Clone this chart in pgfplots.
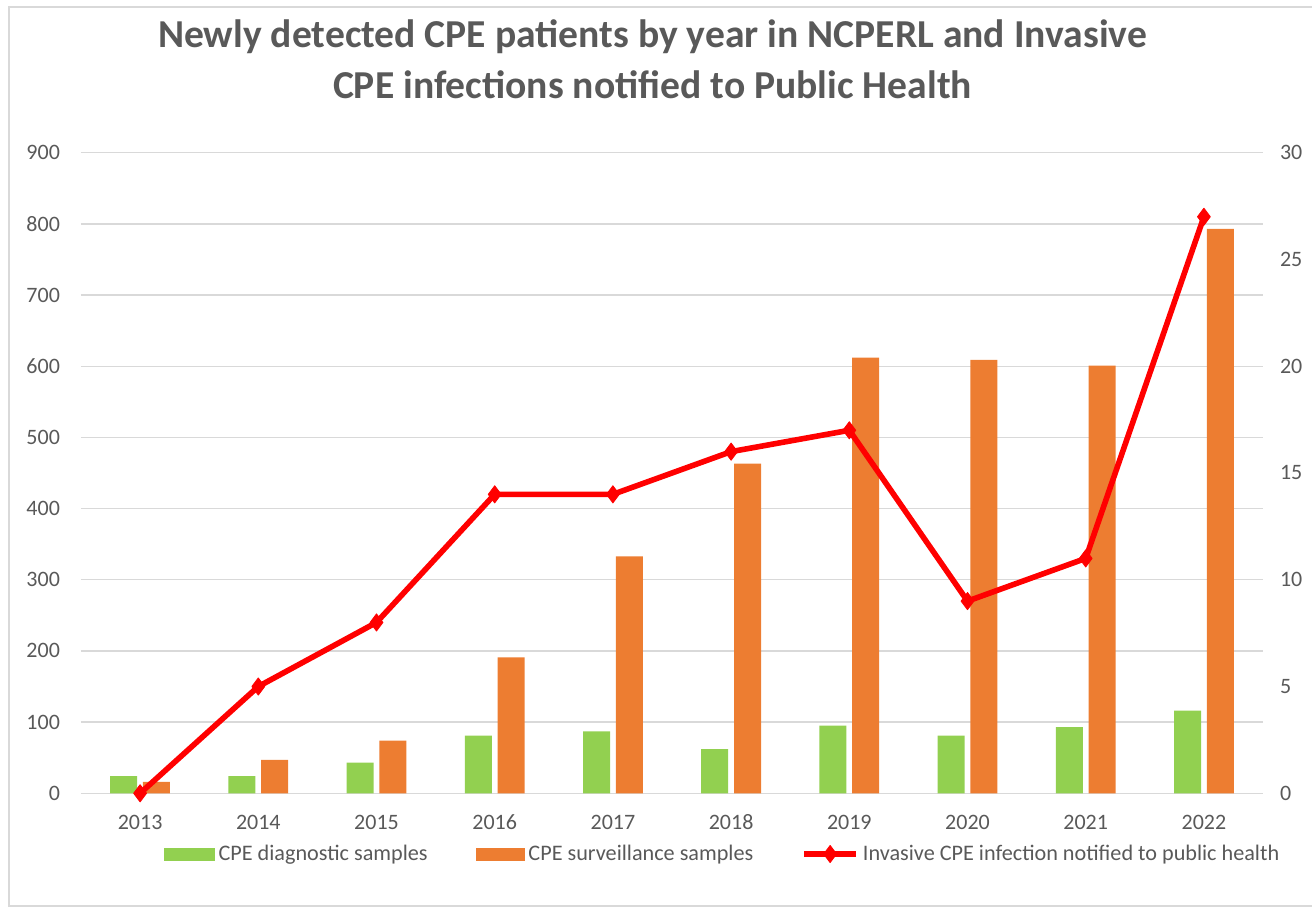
\documentclass[border=0pt]{standalone}
\usepackage{pgfplots}
\pgfplotsset{compat=1.18}
\usepackage{pgfplotstable}
\usepackage{fontspec}
\setmainfont{Carlito}
\definecolor{cgreen}{HTML}{92D050}
\definecolor{corange}{HTML}{ED7D31}
\definecolor{cgrid}{HTML}{D9D9D9}
\definecolor{ctext}{HTML}{595959}
\definecolor{cframe}{HTML}{D9D9D9}

\pgfplotstableread{
x diag surv inv
0 24 16 0
1 24 47 5
2 43 74 8
3 81 191 14
4 87 333 14
5 62 463 16
6 95 612 17
7 81 609 9
8 93 601 11
9 116 793 27
}\datatable

\begin{document}
\begin{tikzpicture}
\pgfplotsset{
  common/.style={
    at={(0pt,0pt)}, anchor=south west,
    scale only axis, width=591pt, height=320.3pt,
    xmin=-0.5, xmax=9.5,
    major tick length=0pt,
    tick label style={text=ctext, font=\fontsize{11}{13}\selectfont},
    /pgf/number format/assume math mode=true,
  }
}
\begin{axis}[common,
  ymin=0, ymax=900,
  xtick={0,...,9},
  xticklabels={2013,2014,2015,2016,2017,2018,2019,2020,2021,2022},
  ytick={0,100,...,900},
  ymajorgrids, grid style={cgrid, line width=0.7pt},
  axis x line*=bottom, axis y line*=left,
  x axis line style={cgrid, line width=0.7pt, -},
  y axis line style={draw=none},
  xticklabel style={anchor=base, yshift=-17.9pt},
  yticklabel style={xshift=-7pt},
  bar width=13.5pt,
]
\addplot[ybar, bar shift=-8.2pt, fill=cgreen, draw=none] table[x=x,y=diag]{\datatable};
\addplot[ybar, bar shift=8.2pt, fill=corange, draw=none] table[x=x,y=surv]{\datatable};
\end{axis}
\begin{axis}[common,
  ymin=0, ymax=30,
  ytick={0,5,...,30},
  axis y line*=right, axis x line=none,
  y axis line style={draw=none},
  yticklabel style={xshift=5pt},
  clip=false,
  legend columns=3,
  legend style={at={(0.5436,-0.0948)}, anchor=center, draw=none, fill=none,
    font=\fontsize{11.1}{13}\selectfont, text=ctext,
    /tikz/every even column/.append style={column sep=22pt},
    inner sep=0pt},
  legend image code/.code={\draw[mark repeat=2,mark phase=2,#1] plot coordinates {(0pt,0pt) (13pt,0pt) (26pt,0pt)};},
]
\addlegendimage{legend image code/.code={\fill[cgreen] (0pt,-3pt) rectangle (25pt,3pt);}}
\addlegendentry{CPE diagnostic samples}
\addlegendimage{legend image code/.code={\fill[corange] (0pt,-3pt) rectangle (24pt,3pt);}}
\addlegendentry{CPE surveillance samples}
\addplot[red, line width=2.8pt, mark=diamond*, mark size=4.3pt,
  mark options={solid, fill=red, line width=0.4pt}, line join=round]
  table[x=x,y=inv]{\datatable};
\addlegendentry{Invasive CPE infection notified to public health}
\end{axis}
\node[align=center, text=ctext, font=\fontsize{19.8}{25.5}\selectfont\bfseries] at (285.75pt,367pt)
  {Newly detected CPE patients by year in NCPERL and Invasive\\CPE infections notified to Public Health};
\draw[cframe, line width=0.7pt] (-36pt,-56.35pt) rectangle (625pt,393.15pt);
\pgfresetboundingbox
\useasboundingbox (-40.5pt,-57.35pt) rectangle (615.5pt,396.65pt);
\end{tikzpicture}
\end{document}
